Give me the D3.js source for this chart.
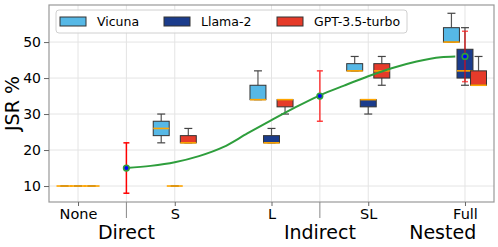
<!DOCTYPE html>
<html>
<head>
<meta charset="utf-8">
<script src="https://cdn.jsdelivr.net/npm/d3@7"></script>
<style>
    body { margin: 0; background: #ffffff; }
    svg text { font-family: "DejaVu Sans", sans-serif; fill: #000000; }
</style>
</head>
<body>
<script>
// 类别与分组
const categories = ['None', 'S', 'L', 'SL', 'Full'];
const groupLabels = ['Direct', 'Indirect', 'Nested'];
const groupPos = [0.5, 2.5, 3.77];
const boundaryTicks = [0.5, 2.5];
const yTicks = [10, 20, 30, 40, 50];

// 系列：[下须, Q1, 中位数, Q3, 上须]
const seriesNames = ['Vicuna', 'Llama-2', 'GPT-3.5-turbo'];
const vicunaStats = [[10, 10, 10, 10, 10], [22, 24, 26, 28, 30], [34, 34, 34, 38, 42], [42, 42, 42, 44, 46], [50, 50, 50, 54, 58]];
const llamaStats = [[10, 10, 10, 10, 10], [10, 10, 10, 10, 10], [22, 22, 22, 24, 26], [30, 32, 34, 34, 34], [38, 40, 42, 48, 54]];
const gptStats = [[10, 10, 10, 10, 10], [22, 22, 22, 24, 26], [30, 32, 34, 34, 34], [38, 40, 42, 44, 46], [38, 38, 38, 42, 46]];

// 均值点与误差
const meanX = [0.5, 2.5, 4];
const meanY = [15, 35, 46];
const meanErr = [7, 7, 7];

// 拟合曲线
const curveX = [0.5, 0.75, 1.0, 1.25, 1.5, 1.75, 2.0, 2.25, 2.5, 2.75, 3.0, 3.25, 3.5, 3.75, 3.9];
const curveY = [15, 15.6, 16.6, 18.3, 20.8, 24.6, 28.3, 31.9, 35.2, 37.9, 40.5, 42.8, 44.6, 45.8, 46.0];

const colors = ['#56b8e6', '#1b3c8c', '#e63b2a'];
const width = 498, height = 247;
const margin = {top: 5, right: 4, bottom: 45, left: 49};

const svg = d3.select('body')
    .append('svg')
    .attr('width', width)
    .attr('height', height);

const x = d3.scaleLinear()
    .domain([-0.3, 4.3])
    .range([margin.left, width - margin.right]);
const y = d3.scaleLinear()
    .domain([5.56, 60.3])
    .range([height - margin.bottom, margin.top]);

// 网格线
const gridX = [0, 0.5, 1, 2, 2.5, 3, 4];
svg.append('g')
    .selectAll('line')
    .data(yTicks)
    .enter()
    .append('line')
    .attr('x1', x.range()[0]).attr('x2', x.range()[1])
    .attr('y1', d => y(d)).attr('y2', d => y(d))
    .attr('stroke', '#e4e4e4').attr('stroke-width', 1);
svg.append('g')
    .selectAll('line')
    .data(gridX)
    .enter()
    .append('line')
    .attr('x1', d => x(d)).attr('x2', d => x(d))
    .attr('y1', y.range()[0]).attr('y2', y.range()[1])
    .attr('stroke', '#e4e4e4').attr('stroke-width', 1);

// 箱线图
const offsets = [-0.14, 0, 0.14];
const boxW = x(0.165) - x(0);
const allStats = [vicunaStats, llamaStats, gptStats];
allStats.forEach((stats, s) => {
    const g = svg.append('g').attr('class', 'series-' + s);
    stats.forEach((d, i) => {
        const cx = x(i + offsets[s]);
        const [lo, q1, med, q3, hi] = d;
        // 须线
        g.append('line')
            .attr('x1', cx).attr('x2', cx)
            .attr('y1', y(lo)).attr('y2', y(q1))
            .attr('stroke', '#555').attr('stroke-width', 1.2);
        g.append('line')
            .attr('x1', cx).attr('x2', cx)
            .attr('y1', y(q3)).attr('y2', y(hi))
            .attr('stroke', '#555').attr('stroke-width', 1.2);
        [lo, hi].forEach(v => {
            g.append('line')
                .attr('x1', cx - boxW / 4).attr('x2', cx + boxW / 4)
                .attr('y1', y(v)).attr('y2', y(v))
                .attr('stroke', '#444').attr('stroke-width', 1.2);
        });
        // 箱体
        g.append('rect')
            .attr('x', cx - boxW / 2)
            .attr('y', y(q3))
            .attr('width', boxW)
            .attr('height', y(q1) - y(q3))
            .attr('fill', colors[s])
            .attr('stroke', '#333')
            .attr('stroke-width', 1);
        // 中位数
        g.append('line')
            .attr('x1', cx - boxW / 2).attr('x2', cx + boxW / 2)
            .attr('y1', y(med)).attr('y2', y(med))
            .attr('stroke', '#ffa500').attr('stroke-width', 1.6);
    });
});

// 拟合曲线
const line = d3.line()
    .x(d => x(d[0]))
    .y(d => y(d[1]))
    .curve(d3.curveMonotoneX);
svg.append('path')
    .datum(d3.zip(curveX, curveY))
    .attr('d', line)
    .attr('fill', 'none')
    .attr('stroke', '#2e9e3c')
    .attr('stroke-width', 2);

// 误差棒与均值点
const errOpacity = [1, 0.75, 0.65];
meanX.forEach((mx, i) => {
    const g = svg.append('g').attr('opacity', errOpacity[i]);
    const cx = x(mx);
    g.append('line')
        .attr('x1', cx).attr('x2', cx)
        .attr('y1', y(meanY[i] - meanErr[i])).attr('y2', y(meanY[i] + meanErr[i]))
        .attr('stroke', '#ff0000').attr('stroke-width', 1.5);
    [meanY[i] - meanErr[i], meanY[i] + meanErr[i]].forEach(v => {
        g.append('line')
            .attr('x1', cx - 3).attr('x2', cx + 3)
            .attr('y1', y(v)).attr('y2', y(v))
            .attr('stroke', '#ff0000').attr('stroke-width', 1.5);
    });
});
svg.append('g')
    .selectAll('circle')
    .data(meanX)
    .enter()
    .append('circle')
    .attr('cx', d => x(d))
    .attr('cy', (d, i) => y(meanY[i]))
    .attr('r', 2.8)
    .attr('fill', '#0000ff')
    .attr('stroke', '#2e9e3c')
    .attr('stroke-width', 1.6);

// 坐标框
svg.append('rect')
    .attr('x', x.range()[0])
    .attr('y', y.range()[1])
    .attr('width', x.range()[1] - x.range()[0])
    .attr('height', y.range()[0] - y.range()[1])
    .attr('fill', 'none')
    .attr('stroke', '#999')
    .attr('stroke-width', 1.2);

// Y 轴
const yAxis = svg.append('g')
    .attr('transform', `translate(${x.range()[0]},0)`)
    .call(d3.axisLeft(y).tickValues(yTicks).tickSize(5).tickPadding(3));
yAxis.select('.domain').remove();
yAxis.selectAll('line').attr('stroke', '#666');
yAxis.selectAll('text').style('font-size', '14px').style('font-family', '"DejaVu Sans", sans-serif');

// X 轴：类别刻度
const xAxis = svg.append('g')
    .attr('transform', `translate(0,${y.range()[0]})`)
    .call(d3.axisBottom(x)
        .tickValues(d3.range(categories.length))
        .tickFormat(i => categories[i])
        .tickSize(4)
        .tickPadding(3));
xAxis.select('.domain').remove();
xAxis.selectAll('line').attr('stroke', '#666');
xAxis.selectAll('text').style('font-size', '14.5px').style('font-family', '"DejaVu Sans", sans-serif');

// 分组分隔长刻度
svg.append('g')
    .selectAll('line')
    .data(boundaryTicks)
    .enter()
    .append('line')
    .attr('x1', d => x(d)).attr('x2', d => x(d))
    .attr('y1', y.range()[0]).attr('y2', y.range()[0] + 16)
    .attr('stroke', '#888').attr('stroke-width', 1);

// 分组标签
svg.append('g')
    .selectAll('text')
    .data(groupLabels)
    .enter()
    .append('text')
    .attr('x', (d, i) => x(groupPos[i]))
    .attr('y', 239)
    .attr('text-anchor', 'middle')
    .style('font-size', '19px')
    .text(d => d);

// Y 轴标题
svg.append('text')
    .attr('transform', `translate(19,${(y.range()[0] + y.range()[1]) / 2}) rotate(-90)`)
    .attr('text-anchor', 'middle')
    .style('font-size', '19px')
    .text('JSR %');

// 图例
const legend = svg.append('g');
legend.append('rect')
    .attr('x', 56).attr('y', 10)
    .attr('width', 351).attr('height', 23)
    .attr('rx', 3)
    .attr('fill', '#ffffff').attr('fill-opacity', 0.85)
    .attr('stroke', '#d0d0d0');
const legendX = [60, 164, 277];
seriesNames.forEach((name, i) => {
    legend.append('rect')
        .attr('x', legendX[i]).attr('y', 17)
        .attr('width', 26).attr('height', 9)
        .attr('fill', colors[i])
        .attr('stroke', '#333').attr('stroke-width', 1);
    legend.append('text')
        .attr('x', legendX[i] + 37).attr('y', 26)
        .style('font-size', '12.5px')
        .text(name);
});
</script>
</body>
</html>
